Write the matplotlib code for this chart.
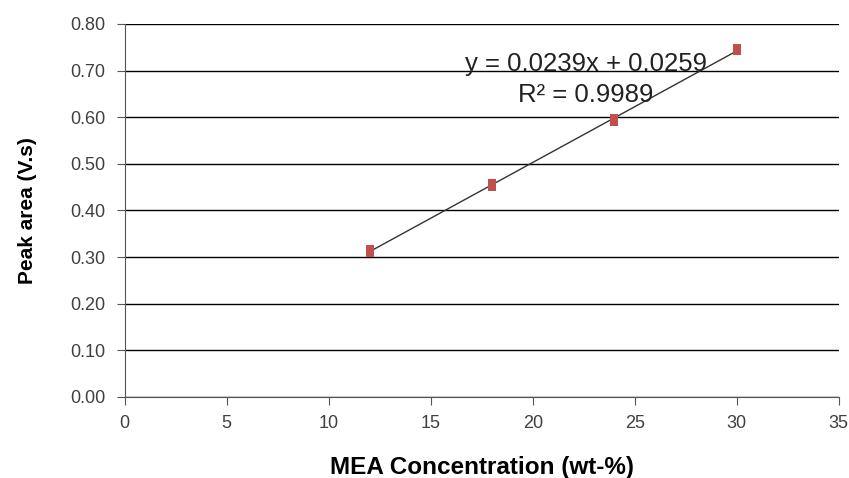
import matplotlib.pyplot as plt
import numpy as np

plt.rcParams['font.family'] = ['Liberation Sans', 'DejaVu Sans']

# MEA concentration (wt-%) and measured peak area (V.s), duplicate runs
conc = [12, 12, 18, 18, 24, 24, 30, 30]
peak_area = [0.318, 0.309, 0.460, 0.450, 0.598, 0.590, 0.749, 0.742]

x_ticks = [0, 5, 10, 15, 20, 25, 30, 35]
y_ticks = [0.0, 0.1, 0.2, 0.3, 0.4, 0.5, 0.6, 0.7, 0.8]

eq_text = 'y = 0.0239x + 0.0259'
r2_text = 'R² = 0.9989'

fig = plt.figure(figsize=(8.49, 4.78), dpi=100)
ax = fig.add_axes([0.147, 0.1695, 0.841, 0.7803])

# linear trendline
slope, intercept = np.polyfit(conc, peak_area, 1)
xs = np.array([min(conc), max(conc)])
ax.plot(xs, slope * xs + intercept, color='#333333', lw=1.0, zorder=3)

ax.plot(conc, peak_area, 's', color='#C0504D', markersize=5.6,
        markeredgewidth=0, zorder=4)

ax.set_xlim(0, 35)
ax.set_ylim(0, 0.8)
ax.set_xticks(x_ticks)
ax.set_yticks(y_ticks)
ax.set_yticklabels([f'{v:.2f}' for v in y_ticks])
ax.yaxis.grid(True, color='black', lw=1.0)
ax.set_axisbelow(True)

for s in ['top', 'right']:
    ax.spines[s].set_visible(False)
for s in ['left', 'bottom']:
    ax.spines[s].set_color('#555555')
ax.tick_params(axis='both', colors='#555555', labelcolor='#404040',
               labelsize=13, length=6, direction='out')
ax.tick_params(axis='y', pad=8)
ax.tick_params(axis='x', pad=7)

ax.set_xlabel('MEA Concentration (wt-%)', fontsize=17.5, fontweight='bold', labelpad=17)
ax.set_ylabel('Peak area (V.s)', fontsize=15, fontweight='bold', labelpad=24)

ax.text(22.6, 0.714, eq_text, fontsize=18.5, ha='center', va='center', color='#222222')
ax.text(22.6, 0.648, r2_text, fontsize=18.5, ha='center', va='center', color='#222222')

fig.savefig('out.png', dpi=100)
